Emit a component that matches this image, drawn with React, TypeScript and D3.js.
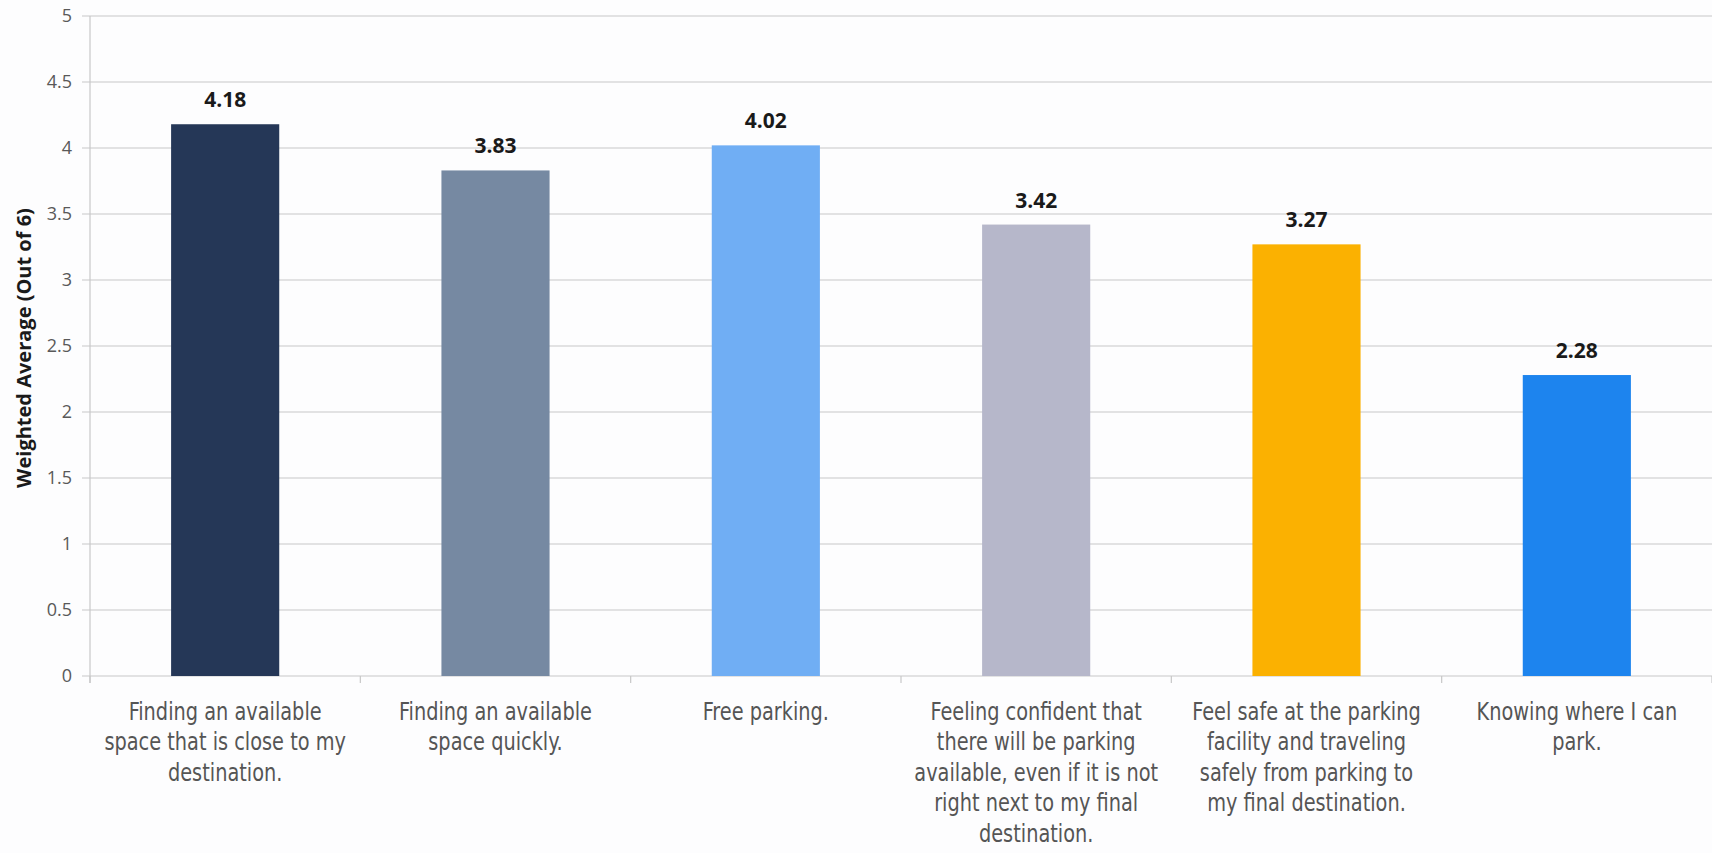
import React from "react";
import * as d3 from "d3";

const categories: string[][] = [
  ["Finding an available", "space that is close to my", "destination."],
  ["Finding an available", "space quickly."],
  ["Free parking."],
  ["Feeling confident that", "there will be parking", "available, even if it is not", "right next to my final", "destination."],
  ["Feel safe at the parking", "facility and traveling", "safely from parking to", "my final destination."],
  ["Knowing where I can", "park."],
];
const values: number[] = [4.18, 3.83, 4.02, 3.42, 3.27, 2.28];
const valueLabels: string[] = ["4.18", "3.83", "4.02", "3.42", "3.27", "2.28"];
const barColors: string[] = ["#253757", "#7689A2", "#70AEF4", "#B6B7CA", "#FBB101", "#1D84EE"];
const yTicks: number[] = [0, 0.5, 1, 1.5, 2, 2.5, 3, 3.5, 4, 4.5, 5];
const yTickLabels: string[] = ["0", "0.5", "1", "1.5", "2", "2.5", "3", "3.5", "4", "4.5", "5"];
const yTitle = "Weighted Average (Out of 6)";

export default function App() {
  const W = 1712;
  const H = 853;
  const left = 90;
  const right = 1712;
  const top = 16;
  const bottom = 676;

  const x = d3
    .scaleBand<number>()
    .domain(d3.range(values.length))
    .range([left, right])
    .paddingInner(0.6)
    .paddingOuter(0.3);
  const step = (right - left) / values.length;
  const y = d3.scaleLinear().domain([0, 5]).range([bottom, top]);

  const condensed = "'Liberation Sans Narrow', 'DejaVu Sans Condensed', 'Open Sans', sans-serif";
  const labelFont = "'Open Sans', 'Noto Sans', sans-serif";

  return (
    <svg
      width={W}
      height={H}
      style={{ position: "absolute", left: 0, top: 0, background: "#fdfdfe" }}
    >
      <rect x={0} y={0} width={W} height={H} fill="#fdfdfe" />
      {yTicks.map((t, i) => (
        <g key={"g" + i}>
          <line x1={left - 8} x2={right} y1={y(t)} y2={y(t)} stroke="#c8c8c8" strokeWidth={1.2} />
          <text
            x={72}
            y={y(t)}
            dy="0.35em"
            textAnchor="end"
            fontSize={18}
            fill="#595959"
            fontFamily={labelFont}
          >
            {yTickLabels[i]}
          </text>
        </g>
      ))}
      <line x1={left} x2={left} y1={top} y2={bottom + 7} stroke="#c8c8c8" strokeWidth={1.2} />
      {d3.range(values.length + 1).map((i) => (
        <line
          key={"t" + i}
          x1={left + i * step}
          x2={left + i * step}
          y1={bottom}
          y2={bottom + 7}
          stroke="#c8c8c8"
          strokeWidth={1.2}
        />
      ))}
      {values.map((v, i) => (
        <rect
          key={"b" + i}
          x={x(i)!}
          y={y(v)}
          width={x.bandwidth()}
          height={bottom - y(v)}
          fill={barColors[i]}
        />
      ))}
      {values.map((v, i) => (
        <text
          key={"v" + i}
          x={x(i)! + x.bandwidth() / 2}
          y={y(v) - 17}
          textAnchor="middle"
          fontSize={21}
          fontWeight="bold"
          fill="#1a1a1a"
          fontFamily={labelFont}
        >
          {valueLabels[i]}
        </text>
      ))}
      {categories.map((lines, i) => {
        const cx = x(i)! + x.bandwidth() / 2;
        return (
          <g key={"c" + i} transform={`translate(${cx},0) scale(0.86,1)`}>
            <text
              x={0}
              y={720}
              textAnchor="middle"
              fontSize={25}
              fontWeight={300}
              fill="#555555"
              fontFamily={condensed}
            >
              {lines.map((ln, j) => (
                <tspan key={j} x={0} dy={j === 0 ? 0 : 30.4}>
                  {ln}
                </tspan>
              ))}
            </text>
          </g>
        );
      })}
      <text
        transform={`translate(24, 348) rotate(-90)`}
        textAnchor="middle"
        dy="0.35em"
        fontSize={20}
        fontWeight="bold"
        fill="#1a1a1a"
        fontFamily={labelFont}
      >
        {yTitle}
      </text>
    </svg>
  );
}
